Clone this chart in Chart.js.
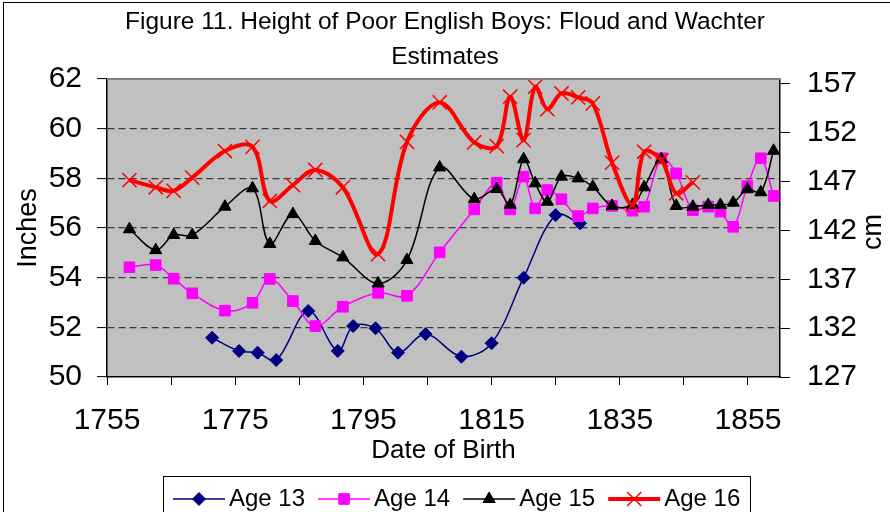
<!DOCTYPE html>
<html>
<head>
<meta charset="utf-8">
<script src="https://cdn.jsdelivr.net/npm/chart.js@4.4.0/dist/chart.umd.min.js"></script>
<style>
    html, body { margin: 0; padding: 0; background: #fff; }
</style>
</head>
<body>
<canvas id="heightChart" width="890" height="512"></canvas>
<script>
// anni di nascita
const yearsAge13 = [1771.4, 1775.6, 1778.5, 1781.4, 1786.4, 1791.0, 1793.4, 1796.9, 1800.4, 1804.7, 1810.3, 1815.0, 1820.0, 1825.0, 1828.8];
const yearsCohort = [1758.5, 1762.6, 1765.4, 1768.3, 1773.4, 1777.7, 1780.4, 1784.0, 1787.5, 1791.8, 1797.3, 1801.8, 1806.9, 1812.3, 1815.8, 1817.9, 1820.0, 1821.8, 1823.7, 1825.9, 1828.5, 1830.8, 1833.8, 1837.0, 1838.8, 1841.5, 1843.8, 1846.4, 1848.8, 1850.7, 1852.7, 1854.9, 1857.0, 1859.0];

// altezze in pollici
const age13 = [51.58, 51.05, 50.98, 50.68, 52.66, 51.05, 52.05, 51.96, 50.98, 51.73, 50.82, 51.36, 54.0, 56.52, 56.19];
const age14 = [54.42, 54.51, 53.96, 53.37, 52.67, 52.99, 53.95, 53.06, 52.05, 52.83, 53.39, 53.27, 55.02, 56.75, 57.82, 56.75, 58.07, 56.79, 57.53, 57.16, 56.48, 56.79, 56.89, 56.7, 56.86, 58.81, 58.2, 56.72, 56.86, 56.66, 56.05, 57.69, 58.81, 57.29];
const age15 = [55.95, 55.11, 55.72, 55.72, 56.86, 57.6, 55.36, 56.56, 55.48, 54.82, 53.77, 54.71, 58.44, 57.16, 57.57, 56.93, 58.77, 57.8, 57.06, 58.07, 58.0, 57.66, 56.89, 56.93, 57.64, 58.77, 56.89, 56.86, 56.93, 56.93, 57.02, 57.56, 57.44, 59.11];
const age16 = [57.93, 57.64, 57.5, 58.03, 59.1, 59.27, 57.09, 57.73, 58.34, 57.64, 54.95, 59.47, 61.06, 59.45, 59.3, 61.29, 59.54, 61.69, 60.79, 61.42, 61.26, 61.02, 58.63, 56.93, 59.07, 58.74, 57.4, 57.84];

// etichette assi
const yearTicks = [1755, 1765, 1775, 1785, 1795, 1805, 1815, 1825, 1835, 1845, 1855];
const yearLabels = [1755, 1775, 1795, 1815, 1835, 1855];
const inchTicks = [50, 51, 52, 53, 54, 55, 56, 57, 58, 59, 60, 61, 62];
const inchLabels = [50, 52, 54, 56, 58, 60, 62];
const cmTicks = [127, 129.5, 132, 134.5, 137, 139.5, 142, 144.5, 147, 149.5, 152, 154.5, 157];
const cmLabels = [127, 132, 137, 142, 147, 152, 157];

const FONT = '"Liberation Sans", Arial, sans-serif';
Chart.defaults.font.family = FONT;
Chart.defaults.color = '#000';

const toPoints = (xs, ys) => ys.map((y, i) => ({ x: xs[i], y: y }));

// sfondo grigio, bordo, "cm" e legenda in stile Excel
const excelFrame = {
    id: 'excelFrame',
    beforeDraw(chart) {
        const { ctx, chartArea: a } = chart;
        ctx.save();
        ctx.fillStyle = '#c0c0c0';
        ctx.fillRect(a.left, a.top, a.right - a.left, a.bottom - a.top);
        ctx.strokeStyle = '#000';
        ctx.lineWidth = 1;
        ctx.strokeRect(3.5, 2.5, 900, 520);
        ctx.restore();
    },
    beforeDatasetsDraw(chart) {
        const { ctx, chartArea: a } = chart;
        ctx.save();
        ctx.strokeStyle = '#808080';
        ctx.lineWidth = 2;
        ctx.beginPath();
        ctx.moveTo(a.left, a.top);
        ctx.lineTo(a.right, a.top);
        ctx.stroke();
        ctx.restore();
    },
    afterDraw(chart) {
        const { ctx } = chart;
        ctx.save();
        // titolo asse destro
        ctx.translate(874, 232);
        ctx.rotate(-Math.PI / 2);
        ctx.font = '27px ' + FONT;
        ctx.fillStyle = '#000';
        ctx.textAlign = 'center';
        ctx.textBaseline = 'middle';
        ctx.fillText('cm', 0, 0);
        ctx.restore();

        // legenda
        ctx.save();
        ctx.strokeStyle = '#000';
        ctx.lineWidth = 1;
        ctx.strokeRect(163.5, 476.5, 587, 60);
        ctx.font = '24px ' + FONT;
        ctx.textBaseline = 'middle';
        const y = 499;
        let x = 173;
        chart.data.datasets.forEach(ds => {
            ctx.strokeStyle = ds.borderColor;
            ctx.lineWidth = ds.borderWidth;
            ctx.beginPath();
            ctx.moveTo(x, y);
            ctx.lineTo(x + 52, y);
            ctx.stroke();
            ctx.fillStyle = ds.pointBackgroundColor;
            ctx.strokeStyle = ds.pointBorderColor;
            ctx.lineWidth = ds.pointBorderWidth;
            Chart.helpers.drawPoint(ctx, {
                pointStyle: ds.pointStyle,
                radius: ds.pointRadius,
                borderWidth: ds.pointBorderWidth,
                rotation: 0
            }, x + 26, y);
            ctx.fillStyle = '#000';
            ctx.fillText(ds.label, x + 56, y);
            x += 56 + ctx.measureText(ds.label).width + 13;
        });
        ctx.restore();
    }
};

new Chart(document.getElementById('heightChart'), {
    type: 'line',
    data: {
        datasets: [
            {
                label: 'Age 13',
                data: toPoints(yearsAge13, age13),
                borderColor: '#000080',
                borderWidth: 1.5,
                pointStyle: 'rectRot',
                pointRadius: 6.5,
                pointBackgroundColor: '#000080',
                pointBorderColor: '#000080',
                pointBorderWidth: 1,
                order: 4
            },
            {
                label: 'Age 14',
                data: toPoints(yearsCohort, age14),
                borderColor: '#ff00ff',
                borderWidth: 1.5,
                pointStyle: 'rect',
                pointRadius: 7.5,
                pointBackgroundColor: '#ff00ff',
                pointBorderColor: '#ff00ff',
                pointBorderWidth: 1,
                order: 3
            },
            {
                label: 'Age 15',
                data: toPoints(yearsCohort, age15),
                borderColor: '#000000',
                borderWidth: 1.5,
                pointStyle: 'triangle',
                pointRadius: 7,
                pointBackgroundColor: '#000000',
                pointBorderColor: '#000000',
                pointBorderWidth: 1,
                order: 2
            },
            {
                label: 'Age 16',
                data: toPoints(yearsCohort, age16),
                borderColor: '#ff0000',
                borderWidth: 4,
                pointStyle: 'crossRot',
                pointRadius: 10,
                pointBackgroundColor: '#ff0000',
                pointBorderColor: '#ff0000',
                pointBorderWidth: 1.5,
                order: 1
            }
        ]
    },
    options: {
        responsive: false,
        animation: false,
        devicePixelRatio: 1,
        layout: { padding: 0 },
        elements: {
            line: { tension: 0.35, fill: false }
        },
        plugins: {
            legend: { display: false },
            tooltip: { enabled: false },
            title: {
                display: true,
                text: ['Figure 11. Height of Poor English Boys: Floud and Wachter', 'Estimates'],
                font: { size: 24.5, weight: 'normal', lineHeight: 1.43 },
                color: '#000',
                padding: { top: 4.5, bottom: 4.5 }
            }
        },
        scales: {
            x: {
                type: 'linear',
                position: 'bottom',
                min: 1755,
                max: 1860,
                afterBuildTicks: s => { s.ticks = yearTicks.map(v => ({ value: v })); },
                afterFit: s => { s.height = 135; },
                ticks: {
                    autoSkip: false,
                    maxRotation: 0,
                    padding: 18,
                    font: { size: 30 },
                    callback: v => yearLabels.includes(v) ? String(v) : ''
                },
                grid: { drawOnChartArea: false, tickLength: 8, tickColor: '#000', tickWidth: 1 },
                border: { color: '#000', width: 1.5 },
                title: {
                    display: true,
                    text: 'Date of Birth',
                    font: { size: 26 },
                    padding: { top: 0, bottom: 46 }
                }
            },
            y: {
                type: 'linear',
                position: 'left',
                min: 50,
                max: 62,
                afterBuildTicks: s => { s.ticks = inchTicks.map(v => ({ value: v })); },
                afterFit: s => { s.width = 107; },
                ticks: {
                    padding: 15,
                    font: { size: 30 },
                    callback: v => inchLabels.includes(v) ? String(v) : ''
                },
                grid: {
                    tickLength: 10,
                    tickColor: '#000',
                    tickWidth: 1,
                    lineWidth: 1.2,
                    color: c => (c.tick && c.tick.value % 2 === 0 && c.tick.value > 50 && c.tick.value < 62) ? '#3a3a3a' : 'rgba(0,0,0,0)'
                },
                border: { color: '#000', width: 1.5, dash: [7, 4] },
                title: {
                    display: true,
                    text: 'Inches',
                    font: { size: 27 },
                    padding: { top: 12, bottom: 0 }
                }
            },
            yCm: {
                type: 'linear',
                position: 'right',
                min: 127,
                max: 157.48,
                afterBuildTicks: s => { s.ticks = cmTicks.map(v => ({ value: v })); },
                afterFit: s => { s.width = 110; },
                ticks: {
                    padding: 17,
                    font: { size: 30 },
                    callback: v => cmLabels.includes(v) ? String(v) : ''
                },
                grid: { drawOnChartArea: false, tickLength: 10, tickColor: '#000', tickWidth: 1 },
                border: { color: '#000', width: 1.5 }
            }
        }
    },
    plugins: [excelFrame]
});
</script>
</body>
</html>
